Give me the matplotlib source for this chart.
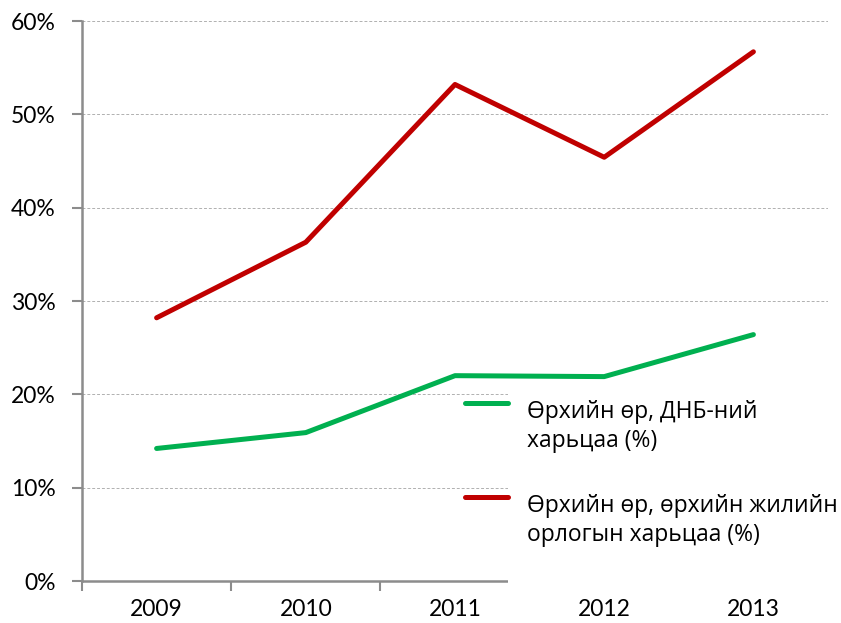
import matplotlib.pyplot as plt
from matplotlib.lines import Line2D
from matplotlib.patches import Rectangle

years = ['2009', '2010', '2011', '2012', '2013']
debt_gdp = [14.2, 15.9, 22.0, 21.9, 26.4]
debt_income = [28.2, 36.3, 53.2, 45.4, 56.7]
labels = ['Өрхийн өр, ДНБ-ний\nхарьцаа (%)',
          'Өрхийн өр, өрхийн жилийн\nорлогын харьцаа (%)']
colors = ['#00B050', '#C00000']

W, H = 841, 623
fig = plt.figure(figsize=(W / 100, H / 100), dpi=100)
ax = fig.add_axes([82 / W, 42 / H, (828 - 82) / W, (581 - 21) / H])

x = range(len(years))
ax.plot(x, debt_gdp, color=colors[0], lw=3.6, solid_capstyle='round', zorder=3)
ax.plot(x, debt_income, color=colors[1], lw=3.6, solid_capstyle='round', zorder=3)

ax.set_xlim(-0.5, len(years) - 0.5)
ax.set_ylim(0, 60)
ax.set_yticks(range(0, 61, 10))
ax.set_yticklabels([f'{v}%' for v in range(0, 61, 10)], fontsize=16.5, family='Lato')
ax.set_xticks(list(x))
ax.set_xticklabels(years, fontsize=16.5, family='Lato')
ax.set_xticks([i + 0.5 for i in range(-1, len(years))], minor=True)
ax.tick_params(axis='x', which='major', length=0, pad=13)
ax.tick_params(axis='x', which='minor', length=7, width=1.5, color='#8c8c8c', direction='out')
ax.tick_params(axis='y', length=7, width=1.5, color='#8c8c8c', pad=12)

ax.grid(axis='y', color='#b0b0b0', linestyle=(0, (3, 2)), linewidth=0.7)
ax.set_axisbelow(True)
for s in ['top', 'right']:
    ax.spines[s].set_visible(False)
for s in ['left', 'bottom']:
    ax.spines[s].set_color('#8c8c8c')
    ax.spines[s].set_linewidth(1.8)

# legend box covering part of the plot, like the original
fig.add_artist(Rectangle((508 / W, 1 - 592 / H), (W - 508) / W, (592 - 385) / H,
                         transform=fig.transFigure, facecolor='white',
                         edgecolor='none', zorder=5))
for i, (lab, c) in enumerate(zip(labels, colors)):
    yk = 403 + i * 94
    fig.add_artist(Line2D([465 / W, 508 / W], [1 - yk / H] * 2, color=c, lw=3.6,
                          solid_capstyle='round', transform=fig.transFigure, zorder=6))
    fig.text(527 / W, 1 - (yk - 3) / H, lab, fontsize=16.5, family='Open Sans',
             va='top', ha='left', linespacing=1.3, zorder=7)

fig.savefig('out.png', dpi=100)
